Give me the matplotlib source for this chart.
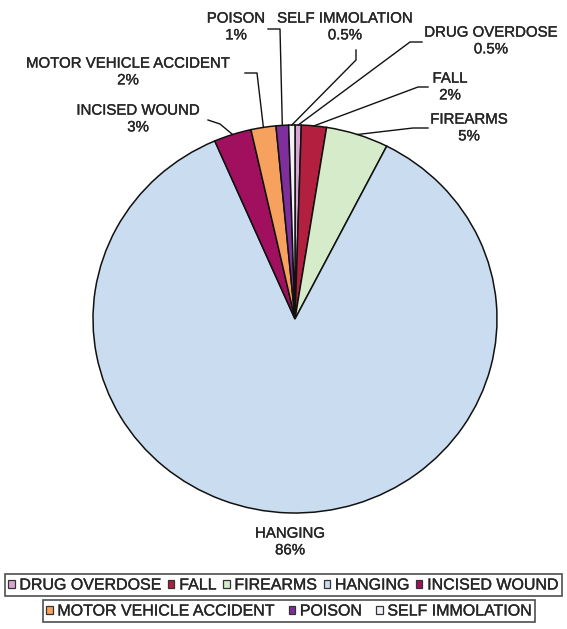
import numpy as np
import matplotlib.pyplot as plt
import matplotlib.patheffects as pe
from matplotlib.patches import Patch

plt.rcParams['font.family'] = ['Liberation Sans', 'DejaVu Sans']

# data
causes = ['DRUG OVERDOSE', 'FALL', 'FIREARMS', 'HANGING', 'INCISED WOUND',
          'MOTOR VEHICLE ACCIDENT', 'POISON', 'SELF IMMOLATION']
shares = [0.5, 2, 5, 86, 3, 2, 1, 0.5]
share_labels = ['0.5%', '2%', '5%', '86%', '3%', '2%', '1%', '0.5%']
colors = ['#d9a3d6', '#b3203f', '#d6ebc9', '#c9dcf0', '#a0105e',
          '#f7a15f', '#7f2f9c', '#f3f1f6']

# layout in image pixels: label centre, leader elbow points
W, H = 567, 629
CX, CY, RX, RY = 295, 319, 202, 194
label_pos = {
    'DRUG OVERDOSE': (491, 41, [(422, 42), (410, 42)]),
    'FALL': (450, 87, [(428, 87), (418, 87)]),
    'FIREARMS': (469, 128, [(428, 128), (413, 128)]),
    'HANGING': (290, 542, []),
    'INCISED WOUND': (138, 119, [(208, 120), (220, 124)]),
    'MOTOR VEHICLE ACCIDENT': (128, 72, [(245, 73), (257, 73)]),
    'POISON': (236, 27, [(268, 29), (280, 29)]),
    'SELF IMMOLATION': (345, 27, [(356, 50), (356, 60)]),
}
TEXT = '#262626'
thick = [pe.withStroke(linewidth=0.25, foreground=TEXT)]


def px(x, y):
    return (x - CX) / RX, (CY - y) / RY


fig = plt.figure(figsize=(W / 100, H / 100), dpi=100)
ax = fig.add_axes([0, 0, 1, 1])
ax.pie(shares, colors=colors, startangle=90, counterclock=False, radius=1,
       wedgeprops=dict(edgecolor='#111111', linewidth=1.1))
ax.set_aspect('auto')
ax.set_xlim(-CX / RX, (W - CX) / RX)
ax.set_ylim((CY - H) / RY, CY / RY)
ax.axis('off')

total = sum(shares)
cum = np.cumsum(shares)
for i, name in enumerate(causes):
    mid = 90 - 360 * (cum[i] - shares[i] / 2) / total
    ex, ey = np.cos(np.radians(mid)), np.sin(np.radians(mid))
    tx, ty, elbow = label_pos[name]
    ax.text(*px(tx, ty), name + '\n' + share_labels[i], ha='center', va='center',
            fontsize=10.8, color=TEXT, linespacing=1.25, path_effects=thick)
    if elbow:
        pts = [px(*p) for p in elbow] + [(ex, ey)]
        ax.plot([p[0] for p in pts], [p[1] for p in pts], color='#111111', lw=1.0)

handles = [Patch(facecolor=c, edgecolor='#333333', linewidth=0.9) for c in colors]
leg_kw = dict(frameon=True, fancybox=False, fontsize=11.5, handlelength=0.4,
              handleheight=0.4, handletextpad=0.3, borderpad=0.2,
              borderaxespad=0, labelcolor=TEXT, loc='center left')
leg1 = fig.legend(handles[:5], causes[:5], ncol=5, columnspacing=0.42,
                  bbox_to_anchor=(5 / W, 1 - 585 / H), **leg_kw)
leg2 = fig.legend(handles[5:], causes[5:], ncol=3, columnspacing=0.9,
                  bbox_to_anchor=(43 / W, 1 - 611 / H), **leg_kw)
for leg in (leg1, leg2):
    leg.get_frame().set_edgecolor('#222222')
    leg.get_frame().set_linewidth(1.2)
    for t in leg.get_texts():
        t.set_path_effects(thick)

fig.savefig('out.png', dpi=100)
